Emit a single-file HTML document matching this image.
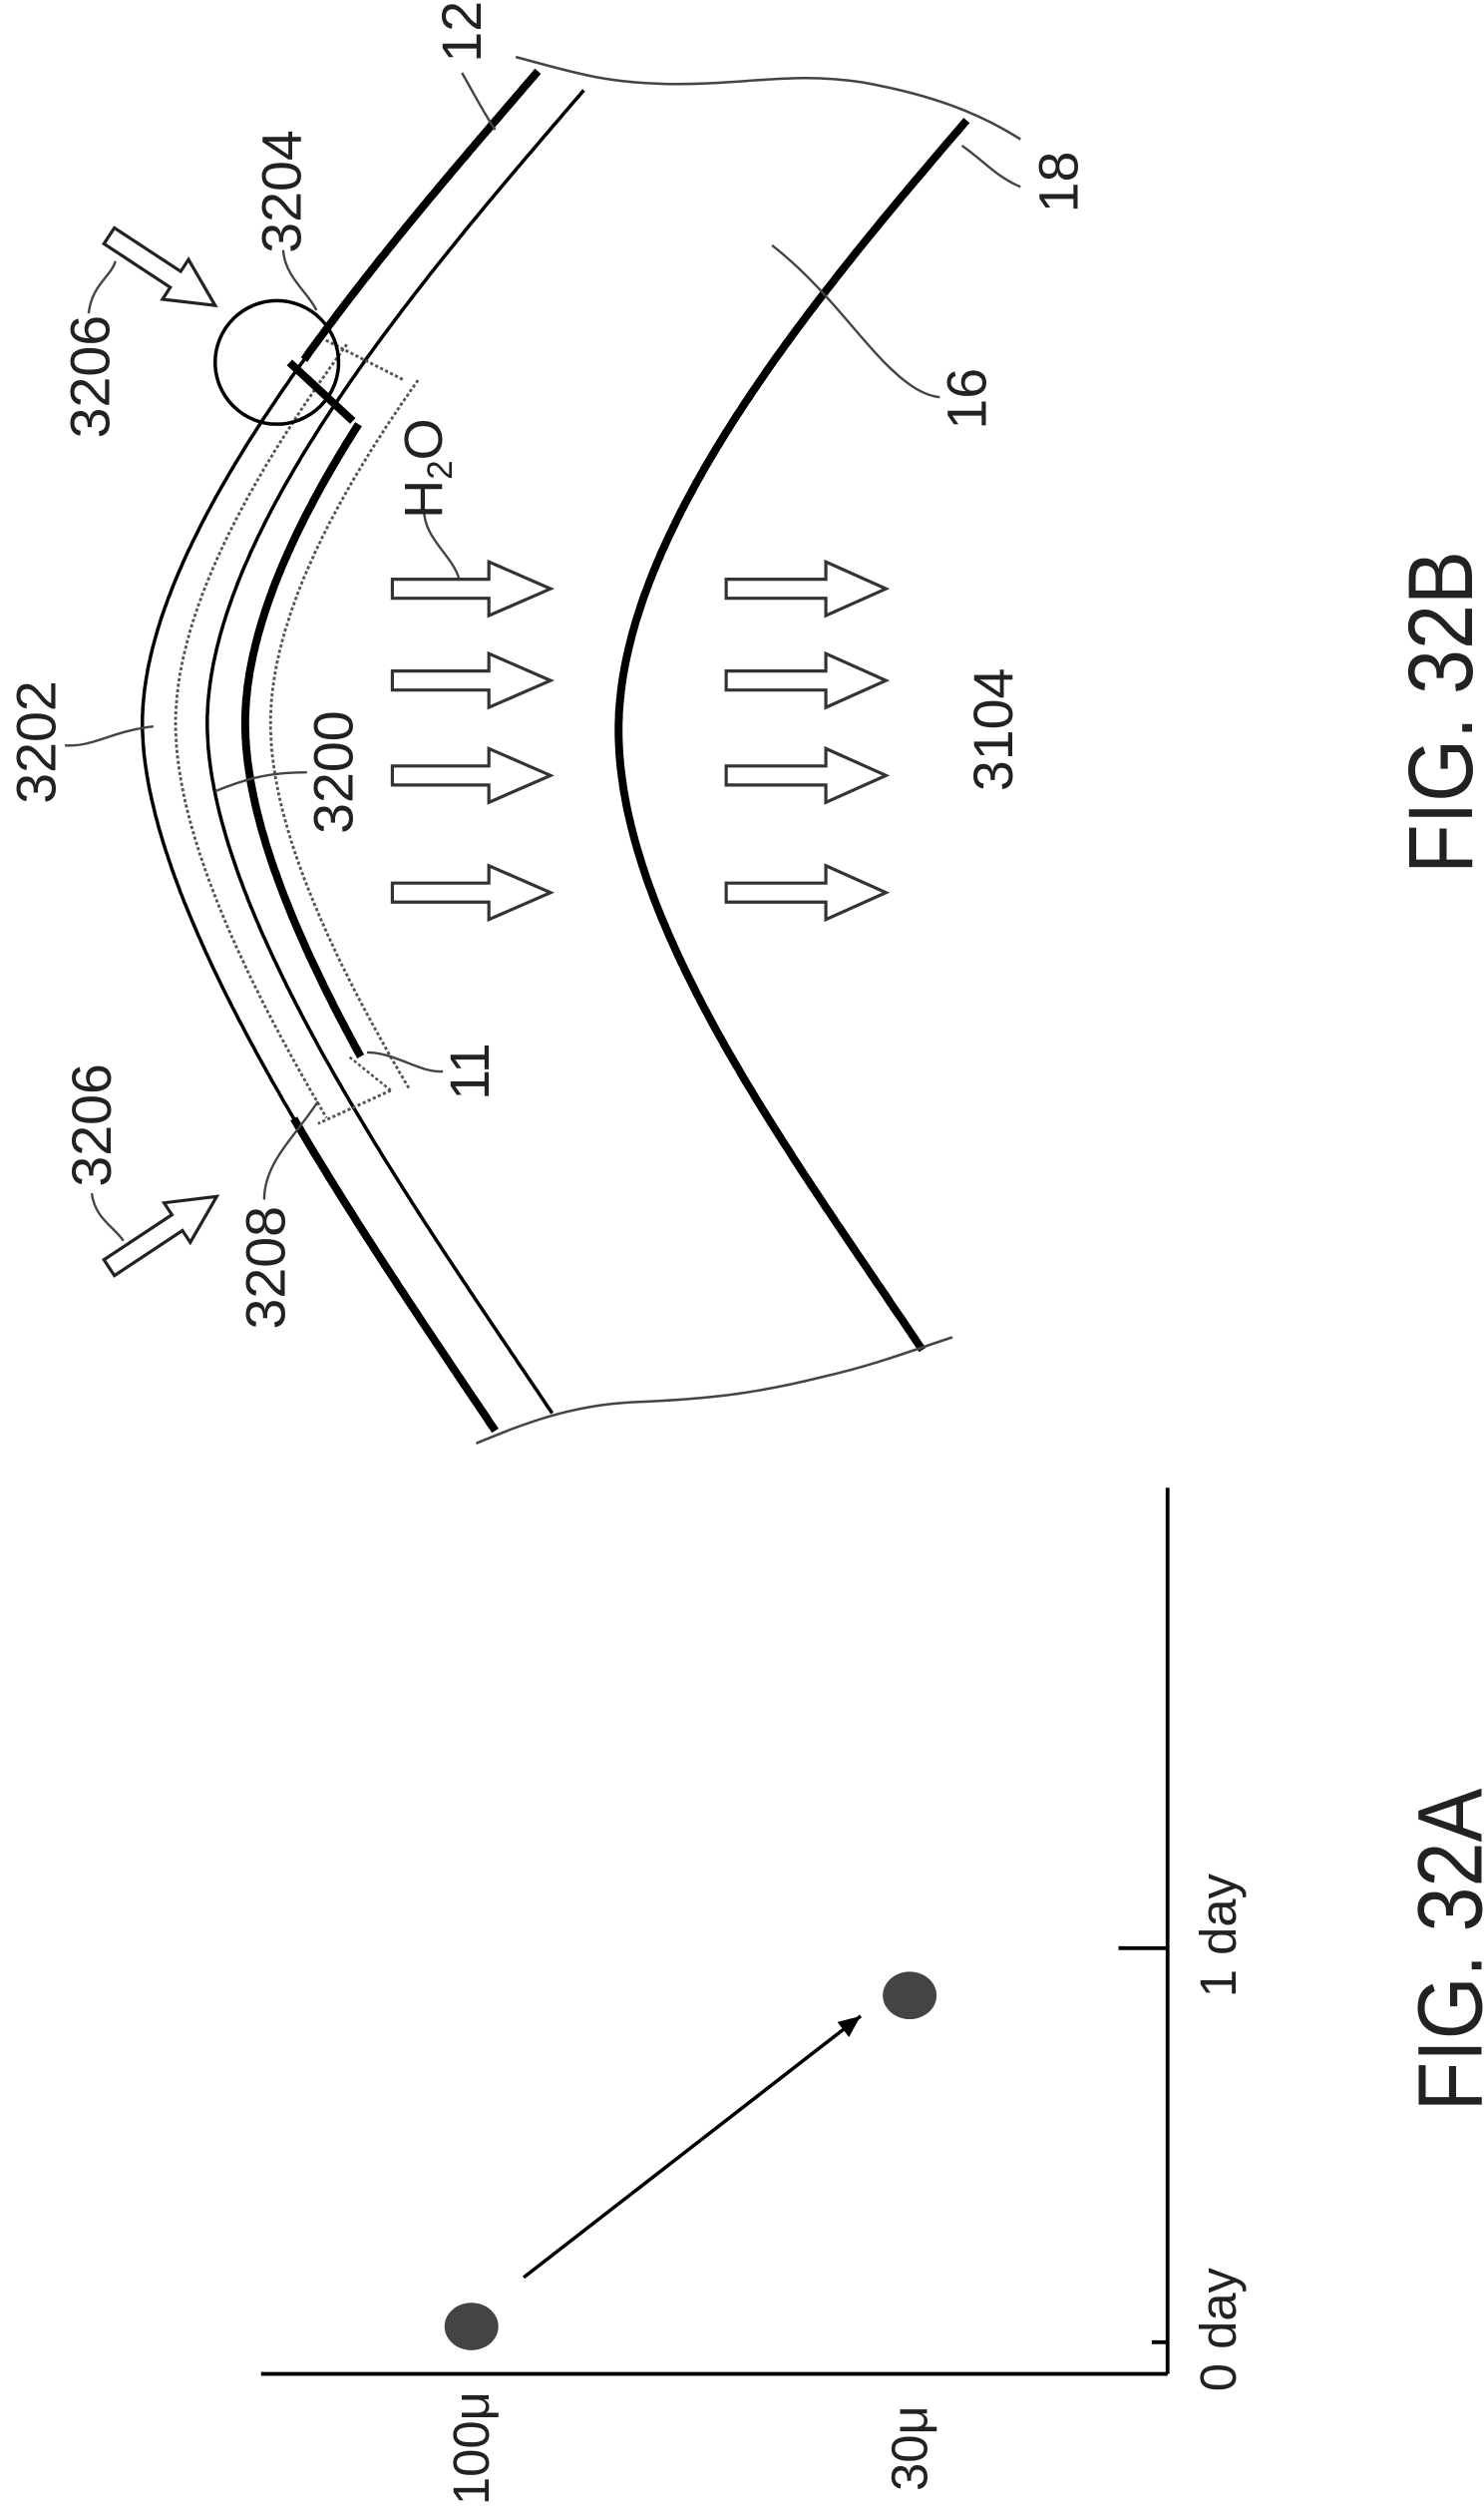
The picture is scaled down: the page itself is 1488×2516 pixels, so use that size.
<!DOCTYPE html>
<html><head><meta charset="utf-8">
<style>
html,body{margin:0;padding:0;background:#fff;}
svg{display:block;}
text{font-family:"Liberation Sans",sans-serif;fill:#222;}
</style></head>
<body>
<svg id="fig" width="1488" height="2516" viewBox="0 0 938 1586" xmlns="http://www.w3.org/2000/svg">
<g id="figB"></g>
<g id="figA"></g>
</svg>
<script>
// ---- Chart data (Fig. 32A) ----
const timeTickLabels = ["0 day", "1 day"];
const timeTickValues = [0, 1];
const sizeTickLabels = ["100\u03bc", "30\u03bc"];
const sizeTickValues = [100, 30];
const pointTimes = [0.04, 0.88];
const pointSizes = [100, 30];

const NS = "http://www.w3.org/2000/svg";
function mk(tag, attrs, parent){
  const e = document.createElementNS(NS, tag);
  for (const k in attrs) e.setAttribute(k, attrs[k]);
  parent.appendChild(e);
  return e;
}
function rtext(str, x, y, size, parent, name, len){
  const t = mk("text", {x:x, y:y, "font-size":size, "text-anchor":"middle", "dominant-baseline":"central", transform:"rotate(-90 "+x+" "+y+")"}, parent);
  if (len){ t.setAttribute("textLength", len); t.setAttribute("lengthAdjust","spacingAndGlyphs"); }
  t.textContent = str;
  
  
  return t;
}

// ---- Fig 32A ----
const A = document.getElementById("figA");
const axX = 738, axY = 1500;
function yOfTime(t){ return 1480 - t * 249; }
function xOfSize(v){ return 575 + (v - 30) * (298 - 575) / 70; }

const vAxis = mk("line", {x1:axX, y1:940, x2:axX, y2:axY, stroke:"#000", "stroke-width":2.4}, A);


const hAxis = mk("line", {x1:165, y1:axY, x2:axX, y2:axY, stroke:"#000", "stroke-width":2.4}, A);



timeTickValues.forEach((tv, i) => {
  const y = yOfTime(tv);
  const len = i === 0 ? 10 : 31;
  const tk = mk("line", {x1:axX - len, y1:y, x2:axX, y2:y, stroke:"#000", "stroke-width":2.4}, A);
  
  
  rtext(timeTickLabels[i], 770, y - 8, 32, A, 'time-tick-label');
});
sizeTickValues.forEach((sv, i) => {
  rtext(sizeTickLabels[i], xOfSize(sv), 1547, 32, A, 'size-tick-label');
});

pointTimes.forEach((pt, i) => {
  const c = mk("ellipse", {cx:xOfSize(pointSizes[i]), cy:yOfTime(pt), rx:17, ry:15, fill:"#444"}, A);
  
  
});
(function(){
  const x1 = xOfSize(pointSizes[0]) + 33, y1 = yOfTime(pointTimes[0]) - 31;
  const x2 = xOfSize(pointSizes[1]) - 31, y2 = yOfTime(pointTimes[1]) + 13;
  const ln = mk("line", {x1:x1, y1:y1, x2:x2, y2:y2, stroke:"#000", "stroke-width":2.2}, A);
  
  
  const ang = Math.atan2(y2 - y1, x2 - x1);
  const hl = 14, hw = 6;
  const bx = x2 - hl*Math.cos(ang), by = y2 - hl*Math.sin(ang);
  const p = [x2+","+y2, (bx - hw*Math.sin(ang))+","+(by + hw*Math.cos(ang)), (bx + hw*Math.sin(ang))+","+(by - hw*Math.cos(ang))];
  const hd = mk("polygon", {points:p.join(" "), fill:"#000"}, A);
  
  
})();
rtext("FIG. 32A", 917, 1232, 58, A, 'figure-label-32a', 204);

// ---- Fig 32B ----
const B = document.getElementById("figB");
function curvePt(c, t){
  let P;
  if (t <= 0.5){
    P = [c.top, [c.top[0]-90, c.top[1]+105], [c.vx, c.vy-127], [c.vx, c.vy]];
    return bez(P, t*2);
  } else {
    P = [[c.vx, c.vy], [c.vx, c.vy+123], [c.bot[0]-83, c.bot[1]-124], c.bot];
    return bez(P, (t-0.5)*2);
  }
}
function bez(P, u){
  const a=(1-u)**3, b=3*u*(1-u)**2, cc=3*u*u*(1-u), d=u**3;
  return [a*P[0][0]+b*P[1][0]+cc*P[2][0]+d*P[3][0], a*P[0][1]+b*P[1][1]+cc*P[2][1]+d*P[3][1]];
}
function curvePath(c, yMin, yMax){
  const pts = [];
  for (let i=0;i<=400;i++){
    const p = curvePt(c, i/400);
    if (p[1] >= yMin && p[1] <= yMax) pts.push(p[0].toFixed(1)+","+p[1].toFixed(1));
  }
  return "M" + pts.join(" L");
}
function drawCurve(c, yMin, yMax, style, name){
  const p = mk("path", Object.assign({d:curvePath(c, yMin, yMax), fill:"none", "stroke-linecap":"butt"}, style), B);
  
  
  return p;
}
const outer = {top:[340,45], vx:90, vy:457, bot:[313,904]};
const dotted = {top:[355,51], vx:111, vy:457, bot:[331,899]};
const line2 = {top:[369,57], vx:131, vy:457, bot:[349,893]};
const thick11 = {top:[391,57], vx:155, vy:457, bot:[371,893]};
const inner = {top:[413,57], vx:171, vy:457, bot:[393,893]};
const c16 = {top:[611,76], vx:391, vy:461, bot:[583,853]};

drawCurve(outer, 0, 2000, {stroke:"#000","stroke-width":2.2}, 'outer-layer-line');
drawCurve(outer, 0, 229, {stroke:"#000","stroke-width":5}, 'tissue-surface-12-top');
drawCurve(outer, 706, 2000, {stroke:"#000","stroke-width":5}, 'tissue-surface-12-bottom');
drawCurve(dotted, 216, 708, {stroke:"#555","stroke-width":1.8,"stroke-dasharray":"2 1.5"}, 'layer-3202-dotted');
drawCurve(line2, 0, 2000, {stroke:"#000","stroke-width":2.2}, 'layer-inner-line');
drawCurve(thick11, 266, 668, {stroke:"#000","stroke-width":5}, 'electrode-11');
drawCurve(inner, 240, 689, {stroke:"#555","stroke-width":1.8,"stroke-dasharray":"2 1.5"}, 'region-3208-box-inner');
drawCurve(c16, 0, 2000, {stroke:"#000","stroke-width":5}, 'boundary-16');

function pathEl(d, style, name){
  const p = mk("path", Object.assign({d:d, fill:"none"}, style), B);
  
  
  return p;
}
pathEl("M183,229 L223,266", {stroke:"#000","stroke-width":5}, 'electrode-z-joint');
pathEl("M206,215 L255,240", {stroke:"#555","stroke-width":1.8,"stroke-dasharray":"2 1.5"}, 'region-3208-box-top');
pathEl("M247,689 L201,710", {stroke:"#555","stroke-width":1.8,"stroke-dasharray":"2 1.5"}, 'region-3208-box-bottom');
pathEl("M221,668 L247,689", {stroke:"#555","stroke-width":1.6,"stroke-dasharray":"2 1.5"}, 'region-3208-box-edge');
const circ = mk("circle", {cx:175, cy:229, r:39, fill:"none", stroke:"#000", "stroke-width":2.2}, B);


pathEl("M326,36 C360,45 380,52 420,53 C470,54 500,45 545,52 C590,60 620,72 645,88", {stroke:"#444","stroke-width":1.6}, 'cut-edge-top');
pathEl("M301,912 C330,900 360,888 400,886 C450,884 480,880 520,870 C555,862 580,852 602,845", {stroke:"#444","stroke-width":1.6}, 'cut-edge-bottom');

const leaders = [
  ["M292,46 C300,60 305,70 313,82", 'leader-12'],
  ["M608,92 C620,100 630,112 645,118", 'leader-18'],
  ["M488,155 C520,180 540,210 560,230 C575,245 585,250 594,251", 'leader-16'],
  ["M268,322 C268,340 285,350 290,365", 'leader-h2o'],
  ["M41,471 C60,472 70,462 97,459", 'leader-3202'],
  ["M136,500 C160,490 175,488 194,488", 'leader-3200'],
  ["M232,665 C250,665 265,678 280,677", 'leader-11'],
  ["M58,754 C60,770 72,775 78,784", 'leader-3206-bottom'],
  ["M167,758 C167,735 185,720 201,696", 'leader-3208'],
  ["M56,198 C58,180 70,175 73,165", 'leader-3206-top'],
  ["M179,158 C180,175 195,185 200,196", 'leader-3204']
];
leaders.forEach(l => pathEl(l[0], {stroke:"#444","stroke-width":1.5}, l[1]));

function hollowArrow(x1,y1,x2,y2,name){
  const L = Math.hypot(x2-x1,y2-y1);
  const ang = Math.atan2(y2-y1,x2-x1)*180/Math.PI;
  const sh=6, hh=15, hl=30;
  const d = `M0,${-sh} L${L-hl},${-sh} L${L-hl},${-hh} L${L},0 L${L-hl},${hh} L${L-hl},${sh} L0,${sh} Z`;
  const p = mk("path", {d:d, fill:"#fff", stroke:"#222","stroke-width":2, transform:`translate(${x1},${y1}) rotate(${ang})`}, B);
  
  
}
hollowArrow(69,149,136,193,'light-arrow-3206-top');
hollowArrow(69,801,137,756,'light-arrow-3206-bottom');

const arrowRows = [372, 430, 490, 564];
const arrowCols = [[248,309,348],[459,522,560]];
arrowCols.forEach(col => arrowRows.forEach(y => {
  const d = `M${col[0]},${y-6} L${col[1]},${y-6} L${col[1]},${y-17} L${col[2]},${y} L${col[1]},${y+17} L${col[1]},${y+6} L${col[0]},${y+6} Z`;
  const p = mk("path", {d:d, fill:"#fff", stroke:"#333","stroke-width":2}, B);
  
  
}));

rtext("12", 292, 20, 35, B, 'label-12');
rtext("18", 669, 115, 35, B, 'label-18');
rtext("16", 611, 252, 35, B, 'label-16');
rtext("3104", 628, 461, 35, B, 'label-3104');
rtext("3200", 211, 488, 35, B, 'label-3200');
rtext("3202", 23, 469, 35, B, 'label-3202');
rtext("11", 297, 677, 35, B, 'label-11');
rtext("3206", 57, 238, 35, B, 'label-3206-top');
rtext("3206", 58, 711, 35, B, 'label-3206-bottom');
rtext("3208", 168, 801, 35, B, 'label-3208');
rtext("3204", 178, 121, 35, B, 'label-3204');
(function(){
  const t = mk("text", {x:268, y:296, "font-size":34, "text-anchor":"middle", "dominant-baseline":"central", transform:"rotate(-90 268 296)"}, B);
  
  
  t.appendChild(document.createTextNode("H"));
  const s = mk("tspan", {"font-size":22, dy:10}, t); s.textContent = "2";
  const o = mk("tspan", {dy:-10}, t); o.textContent = "O";
})();
rtext("FIG. 32B", 911, 450, 58, B, 'figure-label-32b', 204);
</script>
</body></html>
